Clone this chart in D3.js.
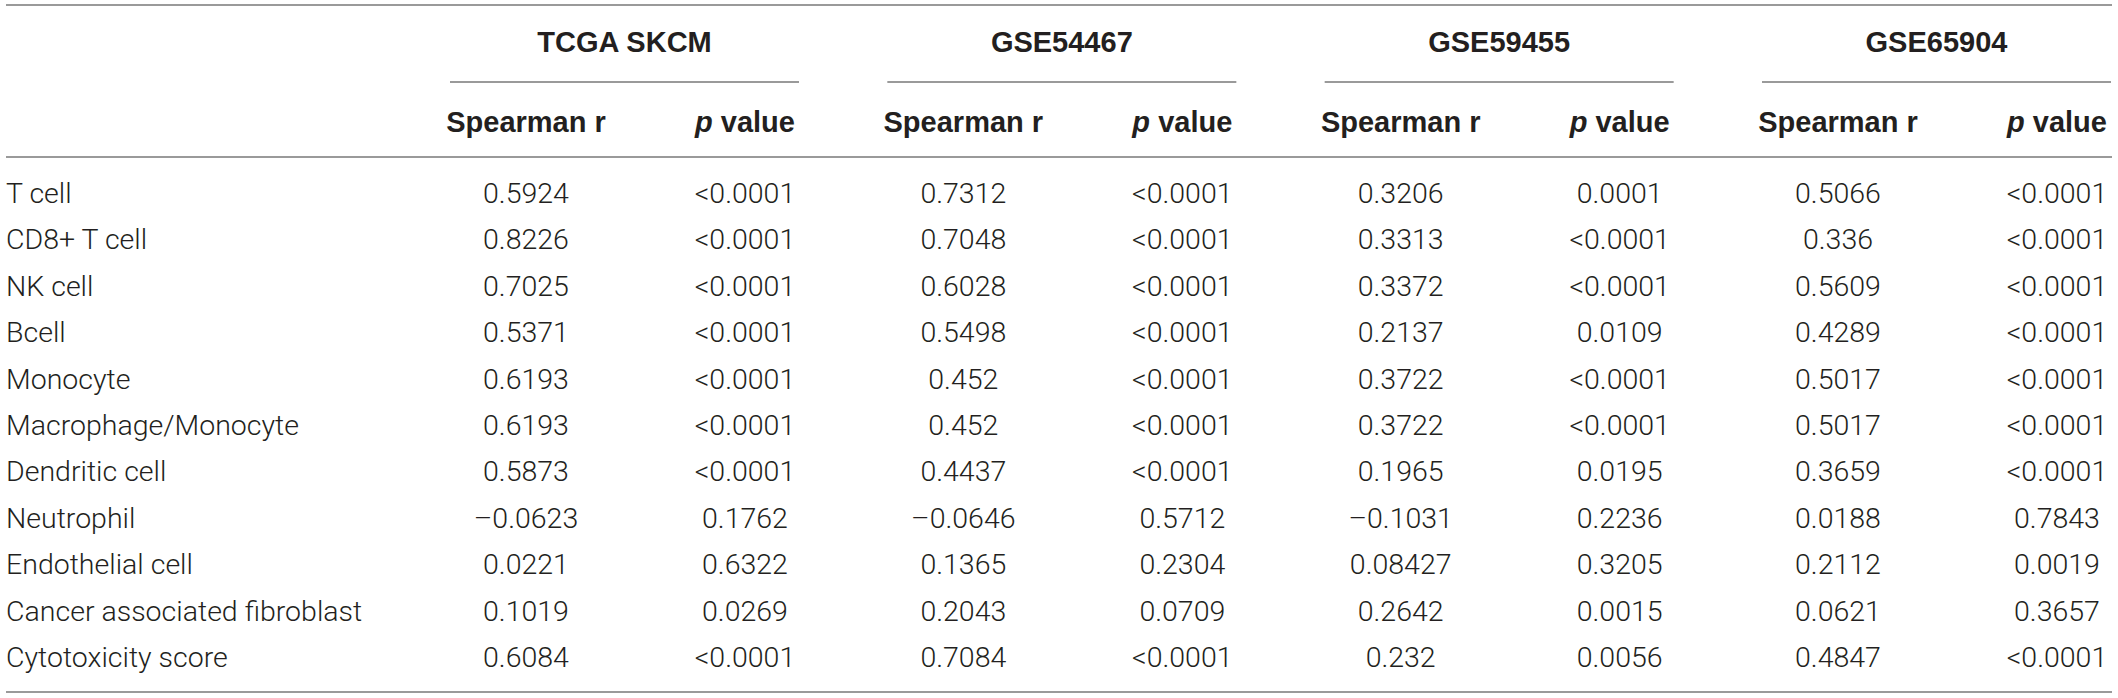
<!DOCTYPE html>
<html>
<head>
<meta charset="utf-8">
<script src="https://cdn.jsdelivr.net/npm/d3@7"></script>
<style>
  body { margin: 0; background: #fff; }
  svg { display: block; }
</style>
</head>
<body>
<div id="table"></div>
<script>
// row names and the four cohorts
let cellTypes = ["T cell", "CD8+ T cell", "NK cell", "Bcell", "Monocyte", "Macrophage/Monocyte",
    "Dendritic cell", "Neutrophil", "Endothelial cell", "Cancer associated fibroblast", "Cytotoxicity score"];
let cohorts = ["TCGA SKCM", "GSE54467", "GSE59455", "GSE65904"];
let subHeads = ["Spearman r", "p value"];

// values as printed in the table
let rTCGA = ["0.5924", "0.8226", "0.7025", "0.5371", "0.6193", "0.6193", "0.5873", "\u20130.0623", "0.0221", "0.1019", "0.6084"];
let pTCGA = ["<0.0001", "<0.0001", "<0.0001", "<0.0001", "<0.0001", "<0.0001", "<0.0001", "0.1762", "0.6322", "0.0269", "<0.0001"];
let r54467 = ["0.7312", "0.7048", "0.6028", "0.5498", "0.452", "0.452", "0.4437", "\u20130.0646", "0.1365", "0.2043", "0.7084"];
let p54467 = ["<0.0001", "<0.0001", "<0.0001", "<0.0001", "<0.0001", "<0.0001", "<0.0001", "0.5712", "0.2304", "0.0709", "<0.0001"];
let r59455 = ["0.3206", "0.3313", "0.3372", "0.2137", "0.3722", "0.3722", "0.1965", "\u20130.1031", "0.08427", "0.2642", "0.232"];
let p59455 = ["0.0001", "<0.0001", "<0.0001", "0.0109", "<0.0001", "<0.0001", "0.0195", "0.2236", "0.3205", "0.0015", "0.0056"];
let r65904 = ["0.5066", "0.336", "0.5609", "0.4289", "0.5017", "0.5017", "0.3659", "0.0188", "0.2112", "0.0621", "0.4847"];
let p65904 = ["<0.0001", "<0.0001", "<0.0001", "<0.0001", "<0.0001", "<0.0001", "<0.0001", "0.7843", "0.0019", "0.3657", "<0.0001"];

let rCols = [rTCGA, r54467, r59455, r65904];
let pCols = [pTCGA, p54467, p59455, p65904];

let widthT = 2118;
let heightT = 698;
let lineColor = "#9a9a9a";
let textColor = "#231f20";
let bodyFont = 'Roboto, "Liberation Sans", sans-serif';
let headFont = '"Liberation Sans", Arial, sans-serif';

let svgT = d3.select('#table')
    .append('svg')
    .attr('width', widthT)
    .attr('height', heightT);

// cohort block start, and column centres inside a block
let xGroup = d3.scaleLinear()
    .domain([0, cohorts.length - 1])
    .range([450, 1762]);
let groupW = 349;
let xSub = d3.scaleOrdinal()
    .domain(subHeads)
    .range([76, 295]);

// text baselines of the body rows
let yRow = d3.scalePoint()
    .domain(cellTypes)
    .range([203, 667]);

function bodyText(x, y, anchor, txt) {
    return svgT.append('text')
        .attr('x', x)
        .attr('y', y)
        .attr('text-anchor', anchor)
        .style('font-family', bodyFont)
        .style('font-size', '28.5px')
        .style('font-weight', '300')
        .attr('fill', textColor)
        .text(txt);
}

function headText(x, y) {
    return svgT.append('text')
        .attr('x', x)
        .attr('y', y)
        .attr('text-anchor', 'middle')
        .style('font-family', headFont)
        .style('font-size', '29px')
        .style('font-weight', 'bold')
        .attr('fill', textColor);
}

// rules
[5, 157, 692].forEach(function (y) {
    svgT.append('line')
        .attr('x1', 6).attr('x2', 2112)
        .attr('y1', y).attr('y2', y)
        .attr('stroke', lineColor)
        .attr('stroke-width', 2);
});

cohorts.forEach(function (c, i) {
    let gx = xGroup(i);
    headText(gx + groupW / 2, 52).text(c);

    svgT.append('line')
        .attr('x1', gx).attr('x2', gx + groupW)
        .attr('y1', 82).attr('y2', 82)
        .attr('stroke', lineColor)
        .attr('stroke-width', 2);

    // sub headers
    headText(gx + xSub("Spearman r"), 132).text("Spearman r");
    let h2 = headText(gx + xSub("p value"), 132);
    h2.append('tspan').style('font-style', 'italic').text('p');
    h2.append('tspan').text(' value');

    rCols[i].forEach(function (d, j) {
        bodyText(gx + xSub("Spearman r"), yRow(cellTypes[j]), 'middle', d);
    });
    pCols[i].forEach(function (d, j) {
        bodyText(gx + xSub("p value"), yRow(cellTypes[j]), 'middle', d);
    });
});

cellTypes.forEach(function (d) {
    bodyText(6, yRow(d), 'start', d);
});
</script>
</body>
</html>
